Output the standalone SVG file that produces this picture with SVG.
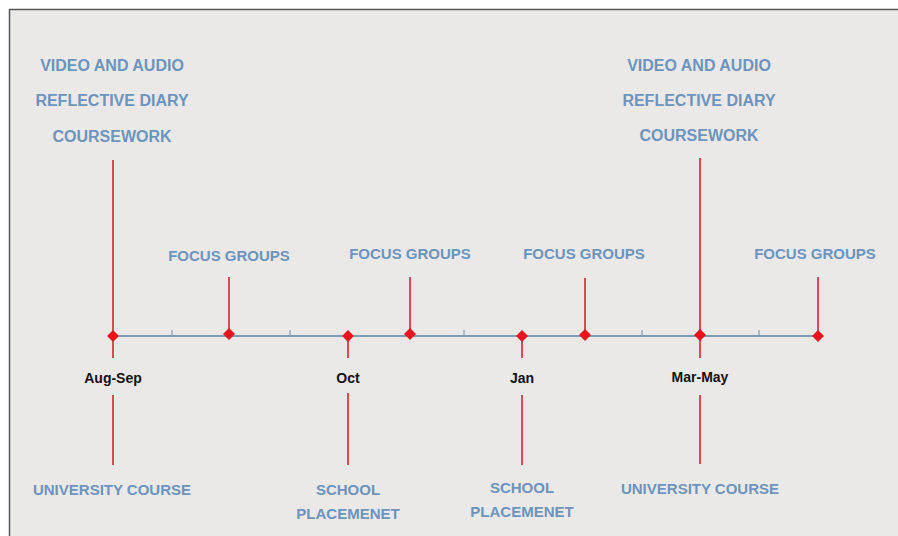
<svg xmlns="http://www.w3.org/2000/svg" width="898" height="536" viewBox="0 0 898 536">
<style>
.lbl{font-family:"Liberation Sans",Arial,sans-serif;font-size:15px;font-weight:bold;fill:#6b94be;text-anchor:middle}
.big{font-size:16px}
.mon{font-family:"Liberation Sans",Arial,sans-serif;font-size:14px;font-weight:bold;fill:#111;text-anchor:middle}
.red{stroke:#d9232a;stroke-width:1.6;fill:none}
.tick{stroke:#7d9bb5;stroke-width:1.2}
.dia{fill:#e8141c}
</style>
<defs>
<path id="d" d="M0,-6 L6,0 L0,6 L-6,0 Z" class="dia"/>
</defs>
<rect x="0" y="0" width="898" height="536" fill="#ffffff"/>
<rect x="9.5" y="9.5" width="900" height="540" fill="#ebe8e8" stroke="#555" stroke-width="1.5"/>
<g id="axis">
<line x1="113" y1="336" x2="818" y2="336" stroke="#7d9bb5" stroke-width="2"/>
<line class="tick" x1="172" y1="330" x2="172" y2="336"/>
<line class="tick" x1="290" y1="330" x2="290" y2="336"/>
<line class="tick" x1="464" y1="330" x2="464" y2="336"/>
<line class="tick" x1="642" y1="330" x2="642" y2="336"/>
<line class="tick" x1="759" y1="330" x2="759" y2="336"/>
</g>
<g id="connectors">
<line class="red" x1="113" y1="160" x2="113" y2="358"/>
<line class="red" x1="113" y1="395" x2="113" y2="465"/>
<line class="red" x1="229" y1="277" x2="229" y2="336"/>
<line class="red" x1="348" y1="336" x2="348" y2="358"/>
<line class="red" x1="348" y1="393" x2="348" y2="465"/>
<line class="red" x1="410" y1="277" x2="410" y2="336"/>
<line class="red" x1="522" y1="336" x2="522" y2="358"/>
<line class="red" x1="522" y1="395" x2="522" y2="465"/>
<line class="red" x1="585" y1="278" x2="585" y2="336"/>
<line class="red" x1="700" y1="158" x2="700" y2="358"/>
<line class="red" x1="700" y1="395" x2="700" y2="464"/>
<line class="red" x1="818" y1="277" x2="818" y2="336"/>
</g>
<g id="markers">
<use href="#d" x="113" y="336"/>
<use href="#d" x="229" y="334"/>
<use href="#d" x="348" y="336"/>
<use href="#d" x="410" y="334"/>
<use href="#d" x="522" y="336"/>
<use href="#d" x="585" y="335"/>
<use href="#d" x="700" y="335"/>
<use href="#d" x="818" y="336"/>
</g>
<g id="node-aug-top">
<text class="lbl big" x="112" y="71">VIDEO AND AUDIO</text>
<text class="lbl big" x="112" y="106">REFLECTIVE DIARY</text>
<text class="lbl big" x="112" y="142">COURSEWORK</text>
</g>
<g id="node-mar-top">
<text class="lbl big" x="699" y="71">VIDEO AND AUDIO</text>
<text class="lbl big" x="699" y="106">REFLECTIVE DIARY</text>
<text class="lbl big" x="699" y="141">COURSEWORK</text>
</g>
<g id="node-fg1"><text class="lbl" x="229" y="261">FOCUS GROUPS</text></g>
<g id="node-fg2"><text class="lbl" x="410" y="259">FOCUS GROUPS</text></g>
<g id="node-fg3"><text class="lbl" x="584" y="259">FOCUS GROUPS</text></g>
<g id="node-fg4"><text class="lbl" x="815" y="259">FOCUS GROUPS</text></g>
<g id="node-augsep"><text class="mon" x="113" y="383">Aug-Sep</text></g>
<g id="node-oct"><text class="mon" x="348" y="383">Oct</text></g>
<g id="node-jan"><text class="mon" x="522" y="383">Jan</text></g>
<g id="node-marmay"><text class="mon" x="700" y="382">Mar-May</text></g>
<g id="node-uni1"><text class="lbl" x="112" y="495">UNIVERSITY COURSE</text></g>
<g id="node-school1">
<text class="lbl" x="348" y="495">SCHOOL</text>
<text class="lbl" x="348" y="519">PLACEMENET</text>
</g>
<g id="node-school2">
<text class="lbl" x="522" y="493">SCHOOL</text>
<text class="lbl" x="522" y="517">PLACEMENET</text>
</g>
<g id="node-uni2"><text class="lbl" x="700" y="494">UNIVERSITY COURSE</text></g>
</svg>
